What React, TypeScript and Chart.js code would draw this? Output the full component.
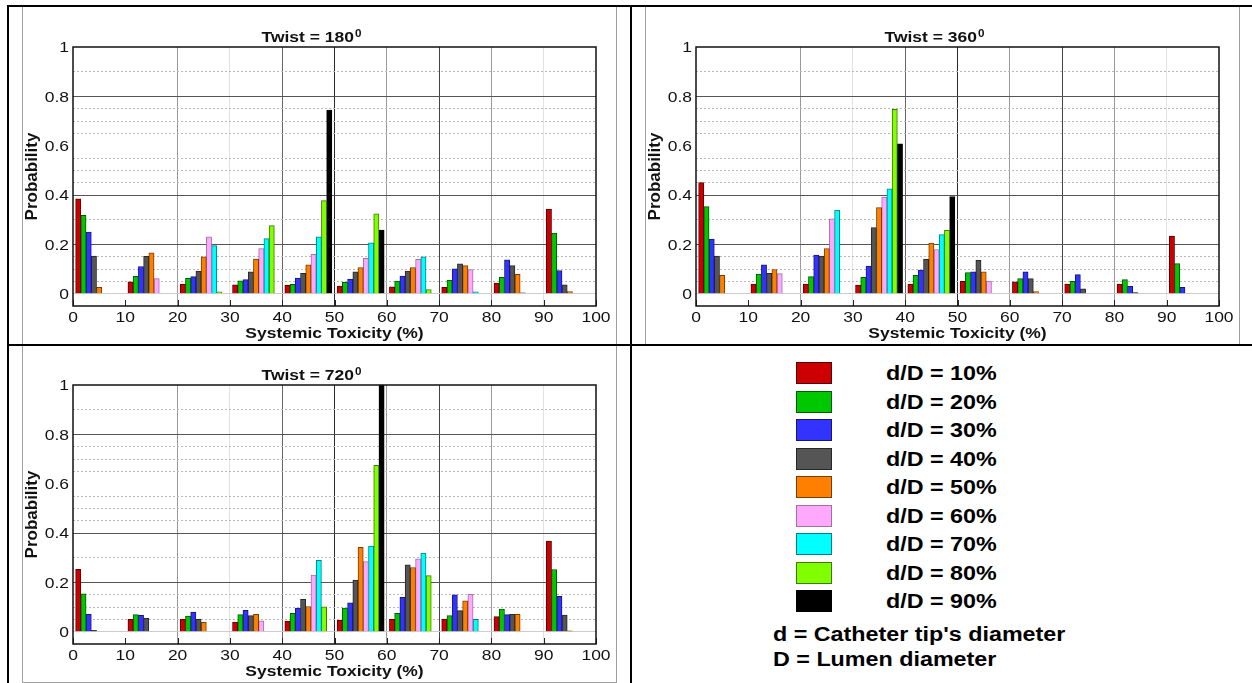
import React, { useEffect, useRef } from 'react';
import { Chart, registerables } from 'chart.js';

Chart.register(...registerables);

// ---- series (catheter tip / lumen diameter ratio) ----
const SERIES_LABELS = [
  'd/D = 10%', 'd/D = 20%', 'd/D = 30%', 'd/D = 40%', 'd/D = 50%',
  'd/D = 60%', 'd/D = 70%', 'd/D = 80%', 'd/D = 90%',
];
const SERIES_COLORS = [
  '#cc0000', '#00c800', '#3333ff', '#555555', '#ff8000',
  '#ffa8ff', '#00ffff', '#80ff00', '#000000',
];
const SERIES_EDGES = [
  '#5a0000', '#005a00', '#16167a', '#262626', '#7a3c00',
  '#a070a0', '#008080', '#3c7a00', '#000000',
];

// ---- systemic toxicity bins (%) and axis ticks ----
const BIN_STARTS = [0, 10, 20, 30, 40, 50, 60, 70, 80, 90];
const X_TICKS = [0, 10, 20, 30, 40, 50, 60, 70, 80, 90, 100];
const Y_TICK_VALUES = [0, 0.2, 0.4, 0.6, 0.8, 1];
const Y_TICK_LABELS = ['0', '0.2', '0.4', '0.6', '0.8', '1'];
const Y_GRID_SOLID = [0.2, 0.4, 0.8];
const Y_GRID_DOTTED = [0.05, 0.1, 0.15, 0.3, 0.45, 0.5, 0.55, 0.65, 0.7, 0.75, 0.9];

// ---- probability per bin; one row per d/D series ----
const TWIST_180 = [
  [0.384, 0.048, 0.039, 0.036, 0.034, 0.031, 0.028, 0.026, 0.043, 0.343], // 10%
  [0.318, 0.070, 0.062, 0.052, 0.038, 0.046, 0.051, 0.054, 0.066, 0.246], // 20%
  [0.250, 0.110, 0.069, 0.057, 0.063, 0.059, 0.071, 0.101, 0.137, 0.094], // 30%
  [0.152, 0.151, 0.092, 0.089, 0.082, 0.089, 0.092, 0.121, 0.114, 0.036], // 40%
  [0.026, 0.166, 0.149, 0.140, 0.117, 0.106, 0.106, 0.114, 0.078, 0.008], // 50%
  [0, 0.061, 0.230, 0.183, 0.159, 0.143, 0.139, 0.098, 0.004, 0],         // 60%
  [0, 0, 0.195, 0.223, 0.230, 0.206, 0.149, 0.007, 0, 0],                 // 70%
  [0, 0, 0.007, 0.276, 0.377, 0.324, 0.017, 0, 0, 0],                     // 80%
  [0, 0, 0, 0, 0.744, 0.258, 0, 0, 0, 0],                                 // 90%
];

const TWIST_360 = [
  [0.450, 0.039, 0.039, 0.035, 0.039, 0.050, 0.048, 0.039, 0.039, 0.233],
  [0.353, 0.079, 0.069, 0.066, 0.074, 0.085, 0.061, 0.050, 0.057, 0.122],
  [0.221, 0.117, 0.156, 0.112, 0.096, 0.089, 0.089, 0.077, 0.030, 0.026],
  [0.152, 0.082, 0.152, 0.268, 0.139, 0.135, 0.061, 0.020, 0.004, 0],
  [0.074, 0.098, 0.183, 0.349, 0.205, 0.089, 0.008, 0, 0, 0],
  [0, 0.081, 0.303, 0.392, 0.179, 0.051, 0, 0, 0, 0],
  [0, 0, 0.339, 0.425, 0.240, 0, 0, 0, 0, 0],
  [0, 0, 0, 0.747, 0.257, 0, 0, 0, 0, 0],
  [0, 0, 0, 0.607, 0.394, 0, 0, 0, 0, 0],
];

const TWIST_720 = [
  [0.253, 0.050, 0.050, 0.039, 0.043, 0.046, 0.050, 0.051, 0.061, 0.367],
  [0.153, 0.069, 0.063, 0.069, 0.074, 0.096, 0.074, 0.065, 0.092, 0.252],
  [0.070, 0.066, 0.079, 0.087, 0.096, 0.117, 0.139, 0.149, 0.069, 0.143],
  [0.005, 0.054, 0.050, 0.065, 0.131, 0.209, 0.271, 0.085, 0.070, 0.067],
  [0, 0, 0.038, 0.070, 0.102, 0.342, 0.260, 0.125, 0.070, 0.003],
  [0, 0, 0, 0.044, 0.229, 0.284, 0.295, 0.151, 0, 0],
  [0, 0, 0, 0, 0.289, 0.347, 0.319, 0.050, 0, 0],
  [0, 0, 0, 0, 0.101, 0.674, 0.227, 0, 0, 0],
  [0, 0, 0, 0, 0, 1.0, 0, 0, 0, 0],
];

const X_TITLE = 'Systemic Toxicity (%)';
const Y_TITLE = 'Probability';
const NOTE_LINES = ["d = Catheter tip's diameter", 'D = Lumen diameter'];

const FONT = '"Liberation Sans", Arial, Helvetica, sans-serif';
const SX = 1.165; // horizontal text stretch

const near = (a: number, b: number) => Math.abs(a - b) < 1e-6;

function xGridColor(c: any) {
  const v = c.tick ? c.tick.value : -1;
  if (near(v, 20) || near(v, 60) || near(v, 80)) return '#9a9a9a';
  if (near(v, 30) || near(v, 90)) return '#e2e2e2';
  if (near(v, 40)) return '#666666';
  if (near(v, 50)) return '#2a2a2a';
  if (near(v, 70)) return '#444444';
  return 'rgba(0,0,0,0)';
}

function yGridColor(c: any) {
  const v = c.tick ? c.tick.value : -1;
  if (near(v, 0)) return '#cccccc';
  if (Y_GRID_SOLID.some((g) => near(g, v))) return '#555555';
  if (Y_GRID_DOTTED.some((g) => near(g, v))) return '#b8b8b8';
  return 'rgba(0,0,0,0)';
}

function yGridDash(c: any) {
  const v = c.tick ? c.tick.value : -1;
  return Y_GRID_DOTTED.some((g) => near(g, v)) ? [2, 2] : [];
}

function drawStretched(ctx: CanvasRenderingContext2D, text: string, x: number, y: number, align: string, sx = SX) {
  const w = ctx.measureText(text).width * sx;
  const x0 = align === 'center' ? x - w / 2 : align === 'right' ? x - w : x;
  ctx.save();
  ctx.translate(x0, y);
  ctx.scale(sx, 1);
  ctx.textAlign = 'left';
  ctx.fillText(text, 0, 0);
  ctx.restore();
  return w;
}

function makePanelPlugin(twist: string) {
  return {
    id: 'panelDecor',
    afterDraw(chart: any) {
      const ctx: CanvasRenderingContext2D = chart.ctx;
      const { left, right, top, bottom } = chart.chartArea;
      const xs = chart.scales.x;
      const ys = chart.scales.y;
      ctx.save();

      // inward tick marks on the bottom axis
      ctx.strokeStyle = '#222';
      ctx.lineWidth = 1;
      X_TICKS.forEach((v) => {
        const px = Math.round(xs.getPixelForValue(v)) + 0.5;
        ctx.beginPath();
        ctx.moveTo(px, bottom);
        ctx.lineTo(px, bottom - 6);
        ctx.stroke();
      });

      // plot frame
      ctx.lineWidth = 1.5;
      ctx.strokeStyle = '#111';
      ctx.strokeRect(left, top, right - left, bottom - top);

      ctx.fillStyle = '#111';
      ctx.textBaseline = 'alphabetic';

      // tick labels
      ctx.font = `15px ${FONT}`;
      Y_TICK_VALUES.forEach((v, i) => {
        drawStretched(ctx, Y_TICK_LABELS[i], left - 4, ys.getPixelForValue(v) + 5.4, 'right');
      });
      X_TICKS.forEach((v) => {
        drawStretched(ctx, String(v), xs.getPixelForValue(v), bottom + 16, 'center');
      });

      // x axis title
      ctx.font = `bold 15px ${FONT}`;
      drawStretched(ctx, X_TITLE, (left + right) / 2, bottom + 31.5, 'center');

      // panel title with superscript
      const main = `Twist = ${twist}`;
      const wMain = ctx.measureText(main).width * SX;
      ctx.font = `bold 10px ${FONT}`;
      const wSup = ctx.measureText('0').width * SX;
      const x0 = (left + right) / 2 - 23 - (wMain + 1 + wSup) / 2;
      ctx.font = `bold 15px ${FONT}`;
      drawStretched(ctx, main, x0, top - 5, 'left');
      ctx.font = `bold 10px ${FONT}`;
      drawStretched(ctx, '0', x0 + wMain + 1, top - 10.5, 'left');

      // y axis title
      ctx.font = `bold 17px ${FONT}`;
      ctx.save();
      ctx.translate(left - 41, (top + bottom) / 2);
      ctx.rotate(-Math.PI / 2);
      ctx.textAlign = 'center';
      ctx.textBaseline = 'middle';
      ctx.fillText(Y_TITLE, 0, 0);
      ctx.restore();

      ctx.restore();
    },
  };
}

function buildConfig(twist: string, values: number[][]): any {
  return {
    type: 'bar',
    data: {
      datasets: SERIES_LABELS.map((label, i) => ({
        label,
        data: values[i].map((y, k) => ({ x: BIN_STARTS[k] + i + 1, y })),
        backgroundColor: SERIES_COLORS[i],
        borderColor: SERIES_EDGES[i],
        borderWidth: 1,
        borderSkipped: 'start',
        grouped: false,
        categoryPercentage: 1,
        barPercentage: 1,
      })),
    },
    options: {
      animation: false,
      responsive: false,
      devicePixelRatio: 1,
      events: [],
      layout: { padding: { top: 40, right: 20, left: 0, bottom: 0 } },
      plugins: { legend: { display: false }, tooltip: { enabled: false }, title: { display: false } },
      scales: {
        x: {
          type: 'linear',
          offset: false,
          min: 0,
          max: 100,
          ticks: { display: false, stepSize: 10 },
          grid: { color: xGridColor, drawTicks: false, lineWidth: 1, offset: false },
          border: { display: false },
          afterFit: (s: any) => { s.height = 38; },
        },
        y: {
          type: 'linear',
          min: -0.05,
          max: 1,
          ticks: { display: false },
          afterBuildTicks: (s: any) => {
            s.ticks = [0, ...Y_GRID_SOLID, ...Y_GRID_DOTTED].sort((a, b) => a - b).map((v) => ({ value: v }));
          },
          grid: { color: yGridColor, drawTicks: false, lineWidth: 1 },
          border: { display: false, dash: yGridDash },
          afterFit: (s: any) => { s.width = 50; },
        },
      },
    },
    plugins: [makePanelPlugin(twist)],
  };
}

function Panel({ twist, values, left, top }: { twist: string; values: number[][]; left: number; top: number }) {
  const ref = useRef<HTMLCanvasElement>(null);
  useEffect(() => {
    const chart = new Chart(ref.current as HTMLCanvasElement, buildConfig(twist, values));
    return () => chart.destroy();
  }, [twist, values]);
  return (
    <div
      style={{
        position: 'absolute', left, top, width: 595, height: 339,
        border: '1px solid #a0a0a0', boxSizing: 'border-box', background: '#fff',
      }}
    >
      <canvas ref={ref} width={593} height={337} style={{ display: 'block', width: 593, height: 337 }} />
    </div>
  );
}

const lineStyle = (left: number, top: number, width: number, height: number): React.CSSProperties => ({
  position: 'absolute', left, top, width, height, background: '#000',
});

export default function App() {
  const textStyle: React.CSSProperties = {
    position: 'absolute',
    font: `bold 20px ${FONT}`,
    color: '#000',
    whiteSpace: 'nowrap',
    transform: `scaleX(${SX})`,
    transformOrigin: 'left center',
  };
  return (
    <div style={{ position: 'absolute', left: 0, top: 0, width: 1252, height: 683, background: '#fff', overflow: 'hidden' }}>
      <Panel twist="180" values={TWIST_180} left={22} top={6} />
      <Panel twist="360" values={TWIST_360} left={645} top={6} />
      <Panel twist="720" values={TWIST_720} left={22} top={344} />

      {/* legend */}
      {SERIES_LABELS.map((label, i) => (
        <React.Fragment key={label}>
          <div
            style={{
              position: 'absolute', left: 796, top: 362 + i * 28.5, width: 36, height: 22,
              background: SERIES_COLORS[i], border: `1px solid ${SERIES_EDGES[i]}`, boxSizing: 'border-box',
            }}
          />
          <div style={{ ...textStyle, left: 886, top: 362 + i * 28.5, lineHeight: '22px' }}>{label}</div>
        </React.Fragment>
      ))}
      {NOTE_LINES.map((t, i) => (
        <div key={t} style={{ ...textStyle, left: 773, top: 621.5 + i * 25, lineHeight: '25px' }}>{t}</div>
      ))}

      {/* table rules */}
      <div style={lineStyle(7, 5, 1245, 2)} />
      <div style={lineStyle(7, 5, 2, 678)} />
      <div style={lineStyle(630, 5, 2, 678)} />
      <div style={lineStyle(7, 344, 1245, 2)} />
    </div>
  );
}
